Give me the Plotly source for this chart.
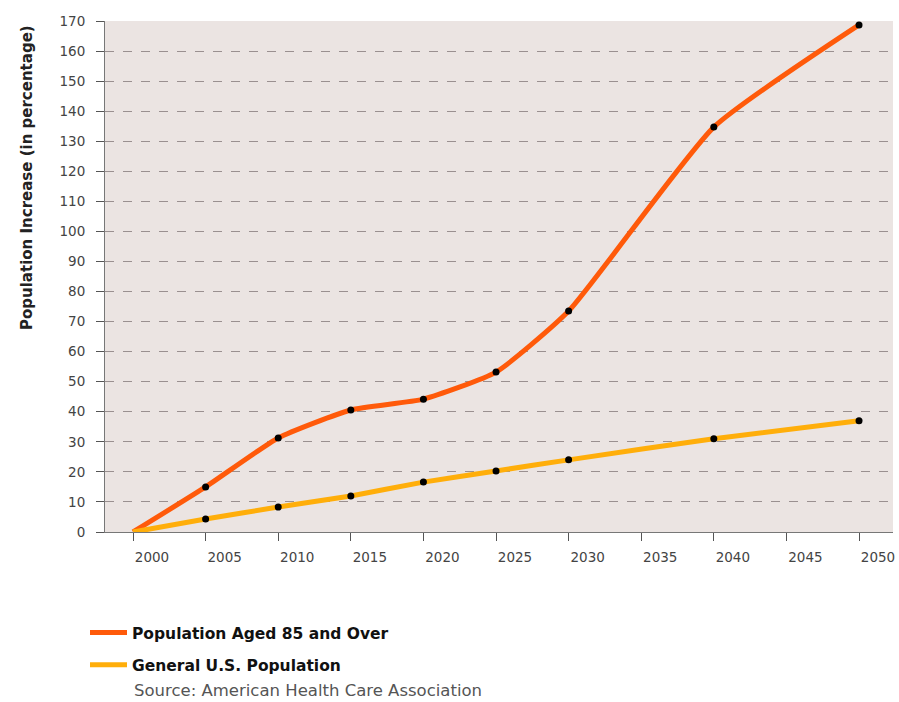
import plotly.graph_objects as go

# Projected population increase since 2000 (percent)
years = [2000, 2005, 2010, 2015, 2020, 2025, 2030, 2040, 2050]
aged_85_over = [0, 15, 31.3, 40.6, 44.2, 53.2, 73.5, 134.7, 168.7]
general_us = [0, 4.3, 8.3, 12.0, 16.6, 20.3, 24.0, 31.0, 37.0]

x_ticks = list(range(2000, 2051, 5))
y_ticks = list(range(0, 171, 10))

series = [
    ("Population Aged 85 and Over", aged_85_over, "#ff5a0a"),
    ("General U.S. Population", general_us, "#ffae0a"),
]

FONT = "DejaVu Sans"

fig = go.Figure()

for i, (name, values, color) in enumerate(series):
    fig.add_trace(go.Scatter(
        x=years, y=values, name=name, mode="lines",
        line=dict(color=color, width=5, shape="spline", smoothing=0.5),
        legendgroup=f"g{i}", hoverinfo="skip",
    ))

# black point markers at each data year after the baseline
for name, values, color in series:
    fig.add_trace(go.Scatter(
        x=years[1:], y=values[1:], mode="markers", showlegend=False,
        marker=dict(color="black", size=7, symbol="circle"),
        hovertemplate=name + "<br>%{x}: %{y}%<extra></extra>",
    ))

fig.add_annotation(
    text="<b>Population Increase (in percentage)</b>",
    xref="paper", yref="paper", x=(27 - 105) / 788, y=(532 - 178) / 511,
    xanchor="center", yanchor="middle",
    textangle=-90, showarrow=False,
    font=dict(family=FONT, size=15, color="#222222"),
)

fig.add_annotation(
    text="Source: American Health Care Association",
    xref="paper", yref="paper", x=(132 - 105) / 788, y=(532 - 690) / 511,
    xanchor="left", yanchor="middle", showarrow=False,
    font=dict(family=FONT, size=16.5, color="#555555"),
)

fig.update_layout(
    width=899, height=702,
    margin=dict(l=105, r=6, t=21, b=170, autoexpand=False),
    paper_bgcolor="white",
    plot_bgcolor="#ebe4e2",
    font=dict(family=FONT, size=13.5, color="#444444"),
    showlegend=True,
    legend=dict(
        x=(85 - 105) / 788, y=(532 - 616) / 511, xanchor="left", yanchor="top",
        orientation="v", tracegroupgap=9, itemwidth=37,
        font=dict(family=FONT, size=15.5, color="#111111", weight="bold"),
        bgcolor="rgba(0,0,0,0)",
    ),
    xaxis=dict(
        range=[1998.07, 2052.34], tickmode="array", tickvals=x_ticks,
        ticks="outside", ticklen=8, tickcolor="#555555",
        showgrid=False, zeroline=False, automargin=False,
        showline=True, linecolor="#777777", linewidth=1,
        ticklabelstandoff=5, ticklabelshift=19,
    ),
    yaxis=dict(
        range=[0, 170], tickmode="array", tickvals=y_ticks,
        ticks="outside", ticklen=8, tickcolor="#555555",
        showgrid=True, gridcolor="#9a9090", gridwidth=1, griddash="dash",
        zeroline=False, showline=True, linecolor="#777777", linewidth=1,
        ticklabelstandoff=8, automargin=False,
    ),
)

fig.write_html("out.html")
